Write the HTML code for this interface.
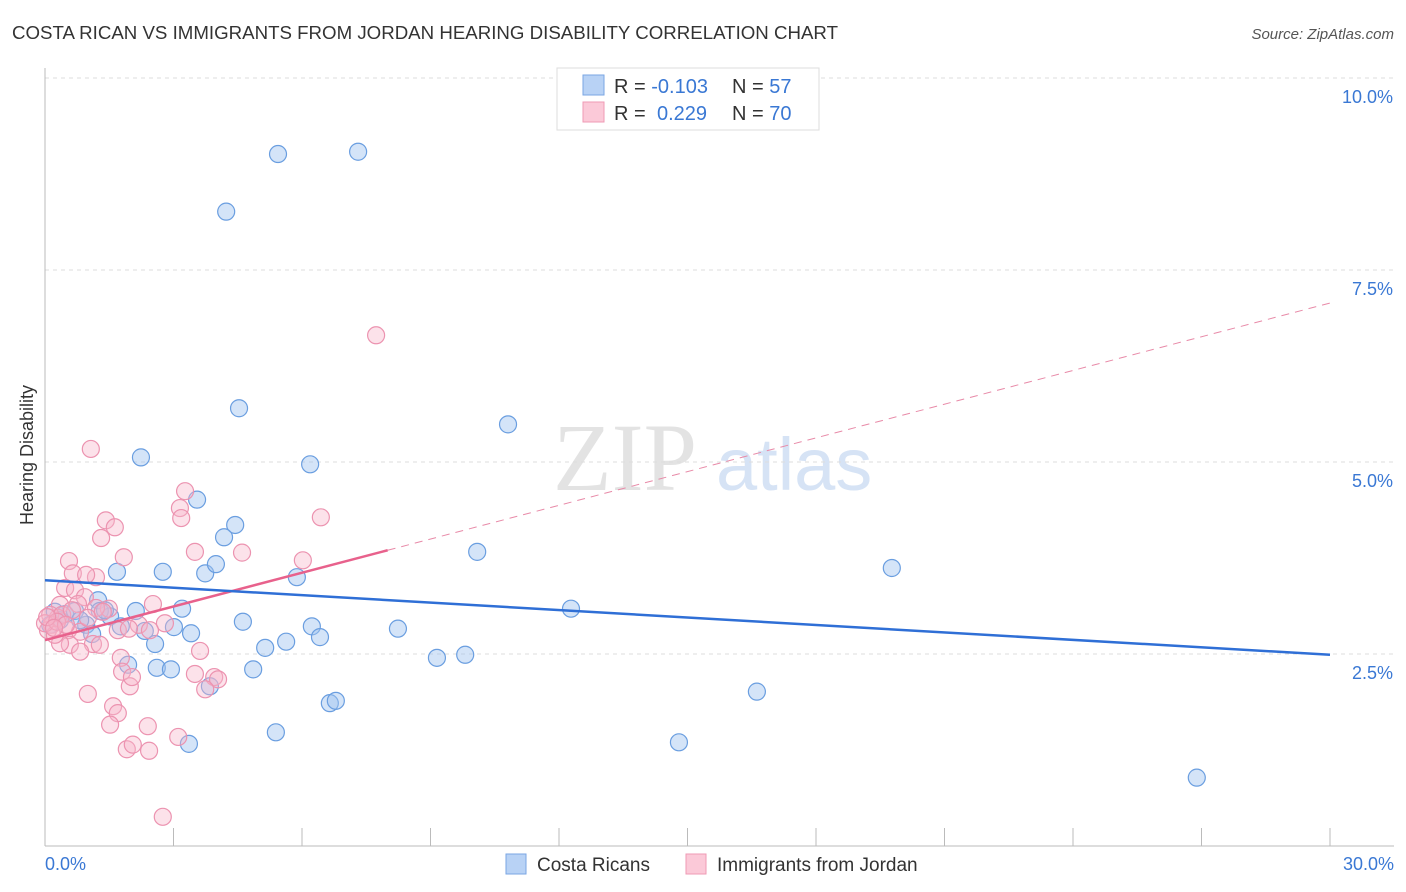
<!DOCTYPE html>
<html><head><meta charset="utf-8">
<style>
body{margin:0;background:#fff;font-family:"Liberation Sans",sans-serif;}
#wrap{position:relative;width:1406px;height:892px;overflow:hidden;}
svg text{font-family:"Liberation Sans",sans-serif;}
</style></head>
<body>
<div id="wrap">
<svg id="svg" width="1406" height="892">
<text x="12" y="39" font-size="18" fill="#333" textLength="826" lengthAdjust="spacingAndGlyphs">COSTA RICAN VS IMMIGRANTS FROM JORDAN HEARING DISABILITY CORRELATION CHART</text>
<text x="1394" y="39" font-size="15" fill="#555" text-anchor="end" font-style="italic">Source: ZipAtlas.com</text>
<text x="33" y="455" font-size="18" fill="#333" text-anchor="middle" transform="rotate(-90 33 455)">Hearing Disability</text>
<g>
<text x="553" y="490" font-size="96" fill="#e3e3e3" font-family="Liberation Serif" style="font-family:'Liberation Serif',serif">ZIP</text>
<text x="716" y="490" font-size="74" fill="#d6e3f5">atlas</text>
</g>
<g id="grid"></g>
<g id="axes"></g>
<g id="marks"></g>
<g>
<rect x="557" y="68" width="262" height="62" fill="#fff" stroke="#ddd"/>
<rect x="583" y="75" width="21" height="20" fill="#b8d2f5" stroke="#7aa6e3"/>
<rect x="583" y="102" width="21" height="20" fill="#fbc9d8" stroke="#ef9ab4"/>
<text x="614" y="93" font-size="20" fill="#333">R = <tspan fill="#3a78d4">-0.103</tspan><tspan x="732">N = </tspan><tspan fill="#3a78d4">57</tspan></text>
<text x="614" y="120" font-size="20" fill="#333">R = <tspan x="657" fill="#3a78d4">0.229</tspan><tspan x="732">N = </tspan><tspan fill="#3a78d4">70</tspan></text>
</g>
<g>
<rect x="506" y="854" width="20" height="20" fill="#b8d2f5" stroke="#7aa6e3"/>
<text x="537" y="871" font-size="19" fill="#333">Costa Ricans</text>
<rect x="686" y="854" width="20" height="20" fill="#fbc9d8" stroke="#ef9ab4"/>
<text x="717" y="871" font-size="19" fill="#333">Immigrants from Jordan</text>
</g>
</svg>
</div>
<script>
const yTicks=[2.5,5.0,7.5,10.0];
const yTickLabels=["2.5%","5.0%","7.5%","10.0%"];
const xTickLabels=["0.0%","30.0%"];
const blueX=[5.44,7.31,4.23,4.53,10.81,2.24,6.19,3.55,4.44,4.18,10.09,19.77,1.68,2.75,3.74,3.99,5.88,2.12,3.20,12.28,4.62,6.23,3.01,3.41,2.33,6.42,8.24,2.57,5.14,5.63,2.61,2.94,1.94,4.86,9.15,9.81,3.85,16.62,6.65,6.79,5.39,3.36,14.80,26.89,0.23,0.47,0.70,1.24,1.52,0.96,1.77,1.10,0.35,0.12,1.28,1.40,0.82];
const blueY=[9.01,9.04,8.26,5.70,5.49,5.06,4.97,4.51,4.18,4.02,3.83,3.62,3.57,3.57,3.55,3.67,3.50,3.06,3.09,3.09,2.92,2.86,2.85,2.77,2.80,2.72,2.83,2.63,2.58,2.66,2.32,2.30,2.36,2.30,2.45,2.49,2.08,2.01,1.86,1.89,1.48,1.33,1.35,0.89,3.05,3.02,3.06,3.20,2.99,2.88,2.86,2.76,2.94,2.88,3.06,3.07,2.94];
const pinkX=[1.07,7.73,3.27,3.15,3.18,6.44,1.42,1.63,1.31,3.50,4.60,1.84,6.02,0.56,0.65,1.19,0.96,0.47,0.70,0.93,2.52,1.49,1.19,0.77,0.35,0.30,0.54,0.82,1.12,1.28,1.70,2.19,2.80,2.45,1.96,0.58,0.35,0.82,3.62,1.77,1.80,1.98,2.03,3.50,3.95,4.04,3.74,1.00,1.59,1.70,1.52,2.40,1.91,2.05,2.43,3.11,2.75,0.12,0.16,0.07,0.23,0.40,0.00,0.63,1.00,1.35,0.28,0.05,0.49,0.21];
const pinkY=[5.17,6.65,4.62,4.40,4.27,4.28,4.24,4.15,4.01,3.83,3.82,3.76,3.72,3.71,3.55,3.50,3.53,3.36,3.33,3.24,3.15,3.09,3.10,3.15,3.14,2.97,2.81,2.79,2.63,2.62,2.81,2.88,2.90,2.81,2.83,2.62,2.64,2.53,2.54,2.45,2.27,2.08,2.20,2.24,2.20,2.17,2.04,1.98,1.82,1.73,1.58,1.56,1.26,1.32,1.24,1.42,0.38,3.01,2.88,2.81,2.75,3.01,2.90,3.07,2.97,3.05,2.92,2.98,2.88,2.84];
const blueTrend=[3.46,2.49];
const pinkTrend=[2.68,7.07];
const pinkSolidEnd=8.0;

const NS="http://www.w3.org/2000/svg";
const X=v=>45+v/30*1285;
const Y=v=>846-v*76.8;
function mk(tag,attrs,parent){const e=document.createElementNS(NS,tag);for(const k in attrs)e.setAttribute(k,attrs[k]);document.getElementById(parent).appendChild(e);return e;}

yTicks.forEach((t,i)=>{
  const g=mk('line',{x1:45,x2:1394,y1:Y(t),y2:Y(t),stroke:'#ddd','stroke-dasharray':'4 4'},'grid');
  
  
  const l=mk('text',{x:1393,y:Y(t)+25,'font-size':18,fill:'#3a78d4','text-anchor':'end'},'axes');
  l.textContent=yTickLabels[i];
  
  
});
let a=mk('line',{x1:45,x2:45,y1:68,y2:846,stroke:'#bbb'},'axes');


a=mk('line',{x1:45,x2:1394,y1:846,y2:846,stroke:'#bbb'},'axes');


for(let v=0;v<=30;v+=3){
  const t=mk('line',{x1:X(v),x2:X(v),y1:828,y2:846,stroke:'#bbb'},'axes');
  
  
}
let xl=mk('text',{x:45,y:870,'font-size':18,fill:'#3a78d4'},'axes');xl.textContent=xTickLabels[0];


xl=mk('text',{x:1394,y:870,'font-size':18,fill:'#3a78d4','text-anchor':'end'},'axes');xl.textContent=xTickLabels[1];



blueX.forEach((x,i)=>{
  const c=mk('circle',{cx:X(x),cy:Y(blueY[i]),r:8.5,fill:'rgba(160,196,240,0.45)',stroke:'#6a9ee0','stroke-width':1.2},'marks');
  
  
});
pinkX.forEach((x,i)=>{
  const c=mk('circle',{cx:X(x),cy:Y(pinkY[i]),r:8.5,fill:'rgba(248,182,202,0.4)',stroke:'#ec93b0','stroke-width':1.2},'marks');
  
  
});
const py=v=>pinkTrend[0]+(pinkTrend[1]-pinkTrend[0])*v/30;
let tl=mk('line',{x1:X(pinkSolidEnd),y1:Y(py(pinkSolidEnd)),x2:X(30),y2:Y(pinkTrend[1]),stroke:'#e88aa8','stroke-width':1,'stroke-dasharray':'8 6'},'marks');


tl=mk('line',{x1:X(0),y1:Y(pinkTrend[0]),x2:X(pinkSolidEnd),y2:Y(py(pinkSolidEnd)),stroke:'#e8618c','stroke-width':2.5},'marks');


tl=mk('line',{x1:X(0),y1:Y(blueTrend[0]),x2:X(30),y2:Y(blueTrend[1]),stroke:'#2f6fd6','stroke-width':2.5},'marks');


</script>
</body></html>
